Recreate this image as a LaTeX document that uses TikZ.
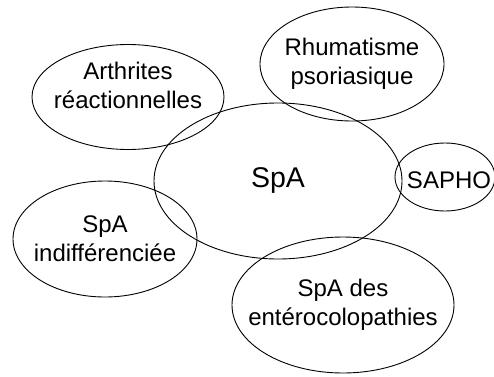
\documentclass[tikz,border=0pt]{standalone}
\usepackage{fontspec}
\setmainfont{Liberation Sans}
\usetikzlibrary{shapes.geometric,positioning}

\begin{document}
\begin{tikzpicture}[x=1pt, y=1pt,
    zone/.style={draw, ellipse, line width=0.9pt, inner sep=0pt},
    lbl/.style={align=center, inner sep=0pt, font=\fontsize{24}{29}\selectfont}]
    \useasboundingbox (0,0) rectangle (494,376);
    % sous-groupes autour de la SpA
    \node[zone, minimum width=192, minimum height=105] (arth) at (128,279) {};
    \node[zone, minimum width=184, minimum height=114] (rhum) at (352,312) {};
    \node[zone, minimum width=248, minimum height=156] (spa) at (278,195) {};
    \node[zone, minimum width=100, minimum height=68] (sapho) at (445,199) {};
    \node[zone, minimum width=184, minimum height=116] (indiff) at (105,137) {};
    \node[zone, minimum width=222, minimum height=136] (entero) at (343,71) {};
    % textes
    \node[lbl] (arthtxt) at ([yshift=12pt]arth.center) {Arthrites\\réactionnelles};
    \node[lbl] (rhumtxt) at (rhum.center) {Rhumatisme\\psoriasique};
    \node[lbl, font=\fontsize{28.5}{34}\selectfont] (spatxt) at (spa.center) {SpA};
    \node[lbl] (saphotxt) at ([xshift=4pt,yshift=-3pt]sapho.center) {SAPHO};
    \node[lbl] (indifftxt) at (indiff.center) {SpA\\indifférenciée};
    \node[lbl] (enterotxt) at (entero.center) {SpA des\\entérocolopathies};
  \end{tikzpicture}
\end{document}
